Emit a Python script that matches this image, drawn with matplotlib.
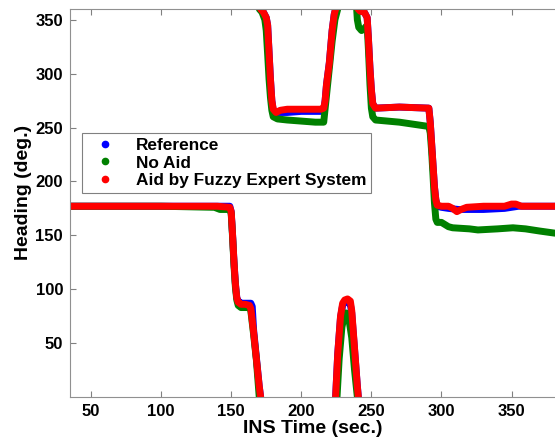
#!/usr/bin/env python3

"""Heading vs INS time: reference, no aid, fuzzy-aided."""

import numpy as np
import matplotlib
matplotlib.use('Agg')
import matplotlib.pyplot as plt
from matplotlib.lines import Line2D

nan = np.nan

# Reference (blue)
ref_t = [35, 60, 100, 140, 149, 150, 151, 152, 153, 154, 155, 157, 160, 164, 165, 166, 168, 170, 171, nan,
         171, 173, 175, 176, 177, 178, 179, 180, 182, 190, 200, 210, 216, 217, 218, 220, 222, 223.5, 224.5, nan,
         224.5, 226, 228, 229.5, 231, 233, 235, 236, 238, 240, 240.7, nan,
         240.5, 242, 245, 247, 248, 249, 250, 251, 253, 270, 291, 292, 293, 294, 295, 296, 297, 300, 305, 312,
         330, 345, 350, 355, 381]
ref_h = [177, 177, 177, 177, 177, 172, 150, 125, 105, 92, 89, 87, 87, 87, 84, 62, 36, 10, 0, nan,
         360, 357, 352, 345, 320, 295, 275, 266, 264, 264, 265, 265, 265, 275, 290, 310, 340, 355, 360, nan,
         0, 40, 74, 85, 88, 88, 86, 78, 44, 10, 0, nan,
         360, 358, 357, 352, 330, 305, 285, 272, 268, 269, 268, 255, 235, 215, 195, 183, 177, 176, 175, 174,
         174, 175, 176, 177, 177]

# No aid (green)
noaid_t = [35, 60, 100, 138, 142, 149, 150, 151, 152, 153, 154, 155, 157, 160, 163, 164, 166, 168, 170, nan,
           170, 172, 174, 175, 176, 177, 178, 179, 180, 183, 190, 200, 210, 216, 218, 220, 222, 224, 226, nan,
           225.5, 227, 229, 231, 232, 234, 236, 238, 240, nan,
           239.5, 240, 241, 243, 245, 247, 248, 249, 250, 251, 253, 270, 291, 292, 293, 294, 295, 296, 297, 300,
           305, 308, 320, 326, 340, 351, 360, 370, 381]
noaid_h = [177, 177, 177, 176, 174, 174, 170, 148, 122, 102, 90, 85, 83, 83, 83, 80, 58, 34, 0, nan,
           360, 357, 350, 340, 318, 295, 278, 266, 260, 258, 257, 256, 255, 255, 280, 305, 330, 350, 360, nan,
           0, 35, 65, 77, 78, 72, 55, 25, 0, nan,
           360, 350, 343, 340, 342, 345, 320, 290, 268, 260, 257, 255, 251, 245, 228, 205, 180, 165, 162, 162,
           158, 157, 156, 155, 156, 157, 156, 154, 152]

# Aid by fuzzy expert system (red)
fuzzy_t = [35, 60, 100, 140, 149, 150, 151, 152, 153, 154, 155, 157, 160, 163, 164, 166, 168, 170, 171, nan,
           171, 173, 175, 176, 177, 178, 179, 180, 182, 185, 190, 200, 214, 216, 217, 218, 220, 222, 223.5,
           224.5, nan,
           224.5, 226, 228, 229.5, 231, 233, 235, 236, 238, 240, 240.7, nan,
           240.5, 242, 245, 247, 248, 249, 250, 251, 253, 270, 291, 292, 293, 294, 295, 296, 297, 300, 305, 308,
           311, 314, 318, 330, 345, 350, 353, 357, 381]
fuzzy_h = [177, 177, 177, 177, 176, 172, 150, 125, 105, 92, 88, 86, 86, 85, 82, 60, 35, 10, 0, nan,
           360, 357, 352, 345, 320, 295, 275, 267, 264, 266, 267, 267, 267, 268, 275, 290, 310, 340, 355,
           360, nan,
           0, 40, 75, 87, 90, 91, 89, 80, 45, 10, 0, nan,
           360, 358, 357, 352, 330, 305, 285, 272, 268, 269, 268, 255, 235, 215, 195, 183, 178, 177, 177, 175,
           172, 174, 176, 177, 177, 179, 179, 177, 177]

labels = ['Reference', 'No Aid', 'Aid by Fuzzy Expert System']
colors = ['#0000ff', '#008000', '#ff0000']
x_ticks = [50, 100, 150, 200, 250, 300, 350]
y_ticks = [50, 100, 150, 200, 250, 300, 350]

plt.rcParams['font.family'] = ['Liberation Sans', 'DejaVu Sans']
plt.rcParams['font.weight'] = 'bold'

fig = plt.figure(figsize=(5.55, 4.45), dpi=100)
ax = fig.add_axes([70 / 555, 1 - 397 / 445, 485 / 555, 388 / 445])

for (tt, hh), col in zip([(ref_t, ref_h), (noaid_t, noaid_h), (fuzzy_t, fuzzy_h)], colors):
  ax.plot(tt, hh, color=col, lw=5, solid_capstyle='round', solid_joinstyle='round')

ax.set_xlim(35, 381)
ax.set_ylim(0, 360)
ax.set_xticks(x_ticks)
ax.set_yticks(y_ticks)
ax.tick_params(direction='in', top=True, right=False, length=4, color='#808080',
               labelsize=12, pad=5)
for lbl in ax.get_xticklabels() + ax.get_yticklabels():
  lbl.set_fontweight('bold')
for side in ['left', 'bottom', 'top']:
  ax.spines[side].set_color('#909090')
ax.spines['right'].set_visible(False)

ax.set_xlabel('INS Time (sec.)', fontsize=14, fontweight='bold', labelpad=1)
ax.set_ylabel('Heading (deg.)', fontsize=14, fontweight='bold')
ax.yaxis.set_label_coords(-0.078, 0.528)

handles = [Line2D([], [], ls='none', marker='.', markersize=9, color=c) for c in colors]
leg = ax.legend(handles, labels, loc='upper left', bbox_to_anchor=(0.025, 0.68),
                borderaxespad=0, fancybox=False, framealpha=1, edgecolor='#808080',
                prop={'size': 12.4, 'weight': 'bold'}, handlelength=2.0, handletextpad=0.8,
                labelspacing=0.12, borderpad=0.3)
leg.get_frame().set_linewidth(0.8)

fig.savefig('out.png', dpi=100)
